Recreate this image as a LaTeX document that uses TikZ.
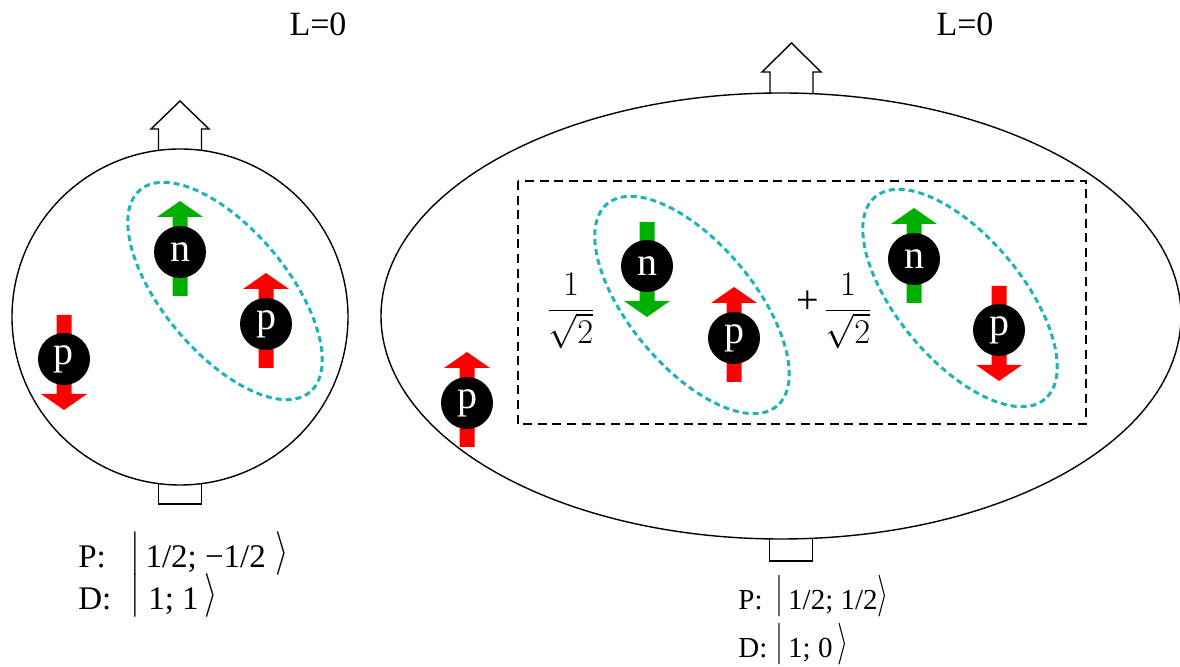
\documentclass[tikz,border=0pt]{standalone}
\usepackage{fontspec}
\setmainfont{Liberation Serif}
\usepackage{graphicx}
\usetikzlibrary{backgrounds}

\definecolor{spinred}{RGB}{255,0,0}
\definecolor{spingreen}{RGB}{0,176,0}
\definecolor{pairteal}{RGB}{30,180,182}

% tall ket delimiters (optional argument: vertical stretch)
\newcommand{\ketbar}[1][1.3]{\raisebox{1.8pt}{\scalebox{1}[#1]{$|$}}}
\newcommand{\ketang}[1][1.3]{\raisebox{1.8pt}{\scalebox{1}[#1]{$\rangle$}}}
% spin arrow behind a nucleon: #1 node, #2 colour, #3 = 1 up / -1 down
\newcommand{\spinarrow}[3]{%
  \fill[#2, shift={(#1)}, yscale=#3] (-7.5,44) -- (-7.5,-35) -- (-23,-35) -- (0,-51)
    -- (23,-35) -- (7.5,-35) -- (7.5,44) -- cycle;}

\begin{document}
\begin{tikzpicture}[
  x=0.5pt, y=-0.5pt,
  nucleon/.style={circle,fill=black,text=white,minimum size=26pt,inner sep=0pt,font=\fontsize{20}{20}\selectfont},
  pair/.style={draw=pairteal,line width=1.5pt,dash pattern=on 3pt off 2pt},
  shell/.style={line width=0.7pt},
  lvec/.style={line width=0.7pt},
  lbl/.style={anchor=base,inner sep=0pt,font=\fontsize{17}{17}\selectfont},
  ket/.style={anchor=base west,inner sep=0pt,font=\fontsize{16.5}{19}\selectfont},
  ketR/.style={ket,font=\fontsize{14.5}{17}\selectfont},
  coef/.style={inner sep=0pt,font=\fontsize{16}{19}\selectfont}
]
  \useasboundingbox (0,0) rectangle (1180,667);

  % left nucleus
  \draw[shell] (180,317) circle [radius=168];
  \draw[lvec, shift={(180,150)}] (-21.5,0) -- (-21.5,-21) -- (-29,-21) -- (0,-49)
    -- (29,-21) -- (21.5,-21) -- (21.5,0);
  \draw[lvec] (158.5,484) -- (158.5,504) -- (201.5,504) -- (201.5,484);
  \draw[pair, rotate around={-50:(225,291)}] (225,291) ellipse [x radius=132, y radius=62];

  \node[nucleon] (nL) at (180,252) {n};
  \node[nucleon] (pL1) at (266,324) {p};
  \node[nucleon] (pL2) at (64,359) {p};

  \node[lbl] (lL) at (318,36) {L=0};
  \node[ket] (kPL) at (78,568) {\makebox[26pt][l]{P:}\ketbar[1.27]\,1/2; −1/2\;\ketang[1.27]};
  \node[ket] (kDL) at (78,610) {\makebox[26pt][l]{D:}\ketbar[1.27]\ 1; 1\,\ketang[1.27]};

  % right nucleus
  \draw[shell] (781,316) ellipse [x radius=400, y radius=223];
  \draw[lvec, shift={(791.5,93)}] (-21.5,0) -- (-21.5,-21) -- (-29.5,-21) -- (0,-50)
    -- (29.5,-21) -- (21.5,-21) -- (21.5,0);
  \draw[lvec] (769.5,539) -- (769.5,561) -- (812.5,561) -- (812.5,539);
  \draw[dash pattern=on 4.5pt off 2.8pt, line width=0.6pt] (518,181) rectangle (1086,424);
  \draw[pair, rotate around={-50:(692,305)}] (692,305) ellipse [x radius=132, y radius=62];
  \draw[pair, rotate around={-50:(960,298)}] (960,298) ellipse [x radius=132, y radius=62];

  \node[nucleon] (pR0) at (467,403) {p};
  \node[nucleon] (nR1) at (647,266) {n};
  \node[nucleon] (pR1) at (734,338) {p};
  \node[nucleon] (nR2) at (914,259) {n};
  \node[nucleon] (pR2) at (999,330) {p};

  \node[coef] (fr1) at (571,311) {$\displaystyle\frac{1}{\sqrt{2}}$};
  \node[coef, font=\fontsize{20}{20}\selectfont] (plus) at (808,302) {+};
  \node[coef] (fr2) at (848,311) {$\displaystyle\frac{1}{\sqrt{2}}$};

  \node[lbl] (lR) at (965,36) {L=0};
  \node[ketR] (kPR) at (738,610) {\makebox[18.5pt][l]{P:}\ketbar[1.45]\,1/2; 1/2\ketang[1.45]};
  \node[ketR] (kDR) at (738,658) {\makebox[18.5pt][l]{D:}\ketbar[1.45]\,1; 0\,\ketang[1.45]};

  % spins
  \begin{scope}[on background layer]
    \spinarrow{nL}{spingreen}{1}
    \spinarrow{pL1}{spinred}{1}
    \spinarrow{pL2}{spinred}{-1}
    \spinarrow{pR0}{spinred}{1}
    \spinarrow{nR1}{spingreen}{-1}
    \spinarrow{pR1}{spinred}{1}
    \spinarrow{nR2}{spingreen}{1}
    \spinarrow{pR2}{spinred}{-1}
  \end{scope}
\end{tikzpicture}
\end{document}
